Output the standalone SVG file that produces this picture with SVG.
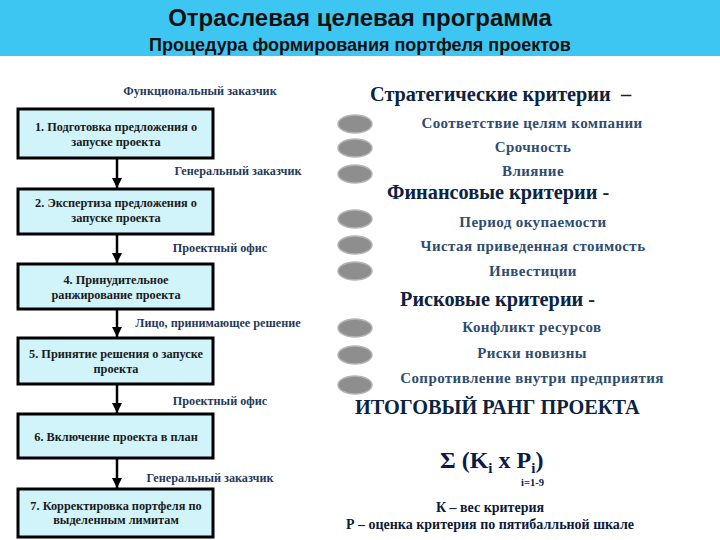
<svg xmlns="http://www.w3.org/2000/svg" width="720" height="540" viewBox="0 0 720 540">
<defs>
<marker id="arr" viewBox="0 0 10 10" refX="10" refY="5" markerWidth="4" markerHeight="4" orient="auto" markerUnits="strokeWidth">
<path d="M0,0 L10,5 L0,10 z" fill="#000"/>
</marker>
</defs>
<style>
.hdr{font-family:"Liberation Sans",Arial,sans-serif;font-weight:bold;fill:#111;text-anchor:middle}
.box{fill:#d0f4fa;stroke:#000;stroke-width:3}
.bt{font-family:"Liberation Serif","Times New Roman",serif;font-weight:bold;font-size:12.3px;fill:#1a1a1a;text-anchor:middle}
.lbl{font-family:"Liberation Serif","Times New Roman",serif;font-weight:bold;font-size:12.2px;fill:#1f3a5c;text-anchor:middle}
.cat{font-family:"Liberation Serif","Times New Roman",serif;font-weight:bold;font-size:20.3px;fill:#0c2340}
.item{font-family:"Liberation Serif","Times New Roman",serif;font-weight:bold;font-size:15px;letter-spacing:0.4px;fill:#2e4d6e;text-anchor:middle}
.dot{fill:#8e8e8e;stroke:#b4b4b4;stroke-width:1.5}
.con{stroke:#000;stroke-width:2.5;fill:none;marker-end:url(#arr)}
.note{font-family:"Liberation Serif","Times New Roman",serif;font-weight:bold;font-size:14px;fill:#0c1a3a;text-anchor:middle}
</style>
<rect width="720" height="540" fill="#fff"/>
<g id="header">
<rect x="0" y="0" width="720" height="56" fill="#3dc6f2"/>
<text class="hdr" x="360" y="26" font-size="24">Отраслевая целевая программа</text>
<text class="hdr" x="360" y="51" font-size="18">Процедура формирования портфеля проектов</text>
</g>
<g id="connectors">
<line class="con" x1="117" y1="159" x2="117" y2="188"/>
<line class="con" x1="117" y1="234" x2="117" y2="263"/>
<line class="con" x1="117" y1="310" x2="117" y2="337"/>
<line class="con" x1="117" y1="385" x2="117" y2="413"/>
<line class="con" x1="117" y1="459" x2="117" y2="488"/>
</g>
<g id="labels">
<text class="lbl" x="200" y="95">Функциональный заказчик</text>
<text class="lbl" x="238" y="175">Генеральный заказчик</text>
<text class="lbl" x="220" y="252">Проектный офис</text>
<text class="lbl" x="218" y="327">Лицо, принимающее решение</text>
<text class="lbl" x="220" y="405">Проектный офис</text>
<text class="lbl" x="210" y="482">Генеральный заказчик</text>
</g>
<g id="step1">
<rect class="box" x="18" y="109" width="195" height="49"/>
<text class="bt" x="116" y="131">1. Подготовка предложения о</text>
<text class="bt" x="116" y="146">запуске проекта</text>
</g>
<g id="step2">
<rect class="box" x="18" y="189" width="195" height="45"/>
<text class="bt" x="116" y="207">2. Экспертиза предложения о</text>
<text class="bt" x="116" y="222">запуске проекта</text>
</g>
<g id="step4">
<rect class="box" x="18" y="264" width="195" height="45"/>
<text class="bt" x="116" y="284">4. Принудительное</text>
<text class="bt" x="116" y="299">ранжирование проекта</text>
</g>
<g id="step5">
<rect class="box" x="18" y="338" width="195" height="46"/>
<text class="bt" x="116" y="358">5. Принятие решения о запуске</text>
<text class="bt" x="116" y="373">проекта</text>
</g>
<g id="step6">
<rect class="box" x="18" y="414" width="195" height="44"/>
<text class="bt" x="116" y="441">6. Включение проекта в план</text>
</g>
<g id="step7">
<rect class="box" x="18" y="489" width="195" height="48"/>
<text class="bt" x="116" y="510">7. Корректировка портфеля по</text>
<text class="bt" x="116" y="524">выделенным лимитам</text>
</g>
<g id="criteria">
<text class="cat" x="370" y="101">Стратегические критерии&#160; –</text>
<ellipse class="dot" cx="355" cy="124" rx="17" ry="9"/>
<ellipse class="dot" cx="355" cy="148" rx="17" ry="9"/>
<ellipse class="dot" cx="355" cy="174" rx="17" ry="9"/>
<text class="item" x="532" y="128">Соответствие целям компании</text>
<text class="item" x="533" y="152">Срочность</text>
<text class="item" x="533" y="176">Влияние</text>
<text class="cat" x="387" y="199">Финансовые критерии -</text>
<ellipse class="dot" cx="355" cy="219" rx="17" ry="9"/>
<ellipse class="dot" cx="355" cy="245" rx="17" ry="9"/>
<ellipse class="dot" cx="355" cy="271" rx="17" ry="9"/>
<text class="item" x="533" y="227">Период окупаемости</text>
<text class="item" x="533" y="251">Чистая приведенная стоимость</text>
<text class="item" x="533" y="276">Инвестиции</text>
<text class="cat" x="400" y="306">Рисковые критерии -</text>
<ellipse class="dot" cx="355" cy="328" rx="17" ry="9"/>
<ellipse class="dot" cx="355" cy="355" rx="17" ry="9"/>
<ellipse class="dot" cx="355" cy="385" rx="17" ry="9"/>
<text class="item" x="532" y="332">Конфликт ресурсов</text>
<text class="item" x="532" y="358">Риски новизны</text>
<text class="item" x="532" y="383">Сопротивление внутри предприятия</text>
</g>
<g id="rank">
<text class="cat" x="355" y="414" font-size="21" fill="#0a1a4a">ИТОГОВЫЙ РАНГ ПРОЕКТА</text>
<text x="440" y="468" font-family="Liberation Serif,'Times New Roman',serif" font-weight="bold" font-size="24" fill="#0c1a4a">Σ (K<tspan font-size="15" dy="5">i</tspan><tspan dy="-5"> x P</tspan><tspan font-size="15" dy="5">i</tspan><tspan dy="-5">)</tspan></text>
<text x="521" y="486" font-family="Liberation Serif,'Times New Roman',serif" font-weight="bold" font-size="10.5" fill="#0c1a4a">i=1-9</text>
<text class="note" x="490" y="512">К – вес критерия</text>
<text class="note" x="490" y="529">Р – оценка критерия по пятибалльной шкале</text>
</g>
</svg>
